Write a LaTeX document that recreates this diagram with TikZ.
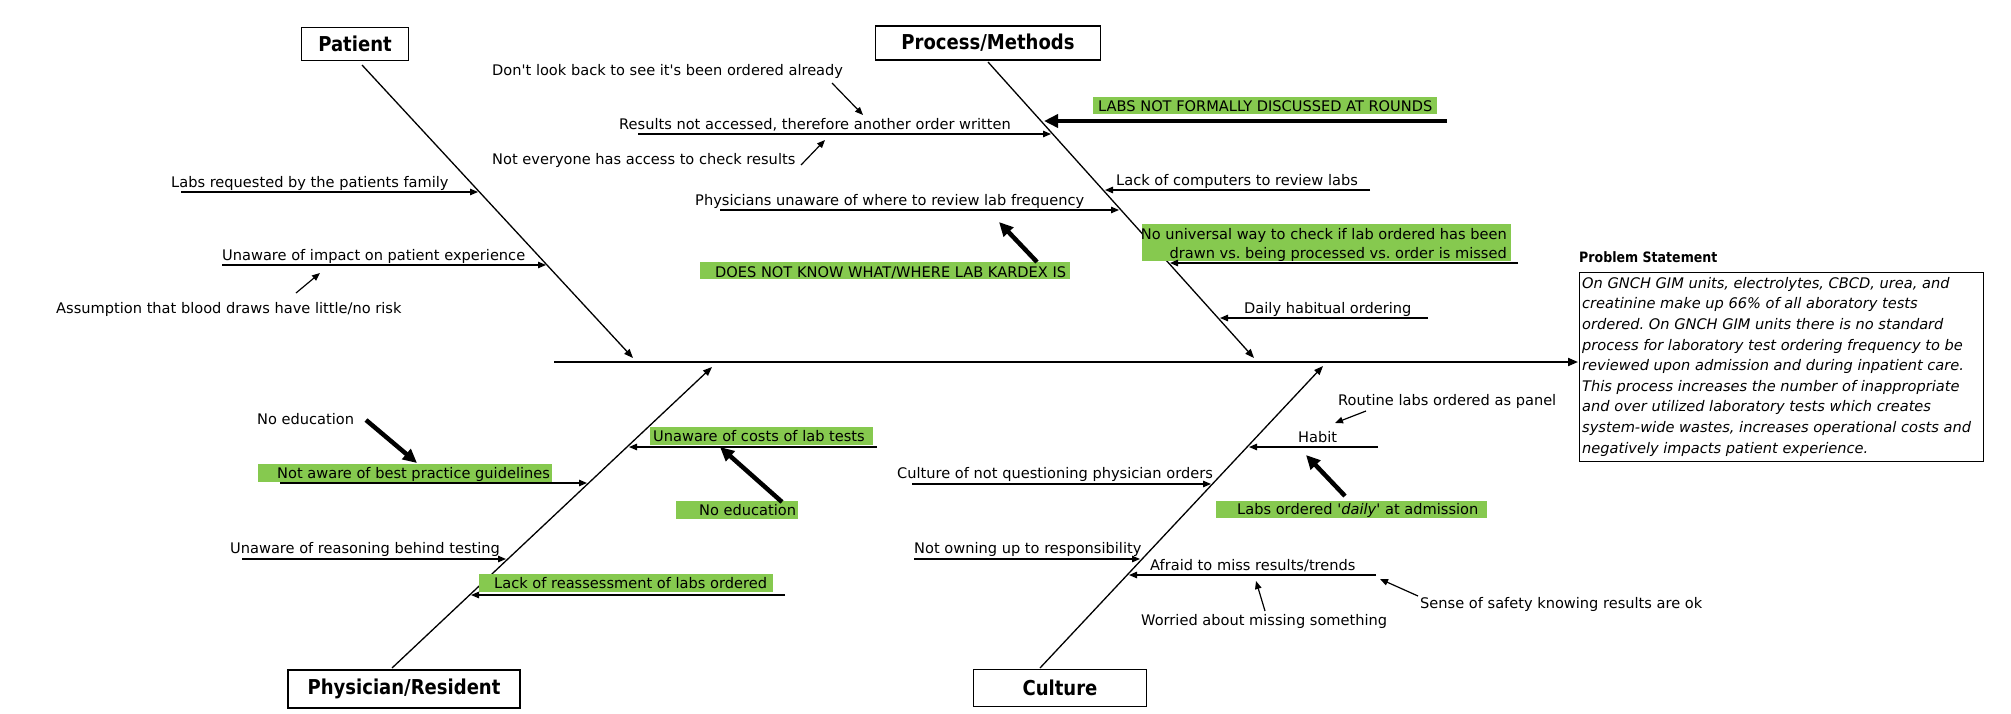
\documentclass[tikz,border=0pt]{standalone}
\usepackage{fontspec}
\setmainfont{DejaVu Sans}[Ligatures=TeXOff]
\newfontfamily\ttlfont{DejaVu Sans}[FakeStretch=0.88, Ligatures=TeXOff]
\usetikzlibrary{arrows.meta}
\definecolor{hl}{RGB}{134,201,79}
\tikzset{
  lbl/.style={anchor=base west, inner sep=0pt, font=\fontsize{14.6}{17}\selectfont},
  lble/.style={anchor=base east, inner sep=0pt, font=\fontsize{14.6}{17}\selectfont},
  ttl/.style={draw, line width=1.6pt, inner sep=0pt, font=\ttlfont\bfseries\fontsize{20.5}{24}\selectfont},
  hlbox/.style={fill=hl, draw=none, inner sep=0pt, anchor=north west},
  rib/.style={line width=1.2pt, -{Triangle[length=8pt,width=6.5pt]}},
  bone/.style={line width=1.3pt, -{Triangle[length=9pt,width=7pt]}},
  spine/.style={line width=2pt, -{Triangle[length=10pt,width=8pt]}},
  bigarrow/.style={line width=4.5pt, -{Triangle[length=14pt,width=13pt]}},
}
\begin{document}
\frenchspacing
\begin{tikzpicture}[x=1pt,y=-1pt]
\fill[white] (0,0) rectangle (2011,713);
\useasboundingbox (0,0) rectangle (2011,713);

% category boxes
\node[ttl, minimum width=107, minimum height=33] (patient) at (355,44) {Patient};
\node[ttl, minimum width=225, minimum height=34] (process) at (988,43) {Process/Methods};
\node[ttl, minimum width=232, minimum height=38] (physician) at (404,689) {Physician/Resident};
\node[ttl, minimum width=173, minimum height=37] (culture) at (1060,688) {Culture};

% spine and problem statement
\node[draw, line width=1.3pt, minimum width=404, minimum height=189, anchor=north west, inner sep=0pt] (psbox) at (1579,272) {};
\node[anchor=base west, inner sep=0pt, font=\ttlfont\bfseries\fontsize{14.3}{17}\selectfont] (pstitle) at (1579,262) {Problem Statement};
\node[anchor=north west, inner sep=0pt, align=left, font=\fontsize{14.6}{20.6}\selectfont\itshape] (pstext) at (1582,277) {On GNCH GIM units, electrolytes, CBCD, urea, and\\creatinine make up 66\% of all aboratory tests\\ordered. On GNCH GIM units there is no standard\\process for laboratory test ordering frequency to be\\reviewed upon admission and during inpatient care.\\This process increases the number of inappropriate\\and over utilized laboratory tests which creates\\system-wide wastes, increases operational costs and\\negatively impacts patient experience.};
\coordinate (spL) at (554,362);
\coordinate (spR) at (1578,362);
\draw[spine] (spL) -- (spR);

% bones
\coordinate (pb0) at (362,65);   \coordinate (pb1) at (633,358);
\coordinate (mb0) at (988,62);   \coordinate (mb1) at (1254,358);
\coordinate (hb0) at (392,668);  \coordinate (hb1) at (712,367);
\coordinate (cb0) at (1040,668); \coordinate (cb1) at (1323,366);
\draw[bone] (pb0) -- (pb1);
\draw[bone] (mb0) -- (mb1);
\draw[bone] (hb0) -- (hb1);
\draw[bone] (cb0) -- (cb1);

% ---------- Patient ----------
\node[lbl] (p1) at (171,187) {Labs requested by the patients family};
\coordinate (p1s) at (181,192); \coordinate (p1e) at (478,192);
\draw[rib] (p1s) -- (p1e);
\node[lbl] (p2) at (222,260) {Unaware of impact on patient experience};
\coordinate (p2s) at (222,265); \coordinate (p2e) at (546,265);
\draw[rib] (p2s) -- (p2e);
\node[lbl] (p3) at (56,313) {Assumption that blood draws have little/no risk};
\coordinate (a1s) at (296,293); \coordinate (a1e) at (320,273);
\draw[rib] (a1s) -- (a1e);

% ---------- Process/Methods ----------
\node[lbl] (m1) at (492,75) {Don't look back to see it's been ordered already};
\coordinate (a2s) at (832,83); \coordinate (a2e) at (863,115);
\draw[rib] (a2s) -- (a2e);
\node[lbl] (m2) at (619,129) {Results not accessed, therefore another order written};
\coordinate (m2s) at (638,134); \coordinate (m2e) at (1051,134);
\draw[rib] (m2s) -- (m2e);
\node[lbl] (m3) at (492,164) {Not everyone has access to check results};
\coordinate (a3s) at (801,165); \coordinate (a3e) at (825,140);
\draw[rib] (a3s) -- (a3e);
\node[hlbox, minimum width=344, minimum height=17] (g1) at (1093,97) {};
\node[lbl] (m4) at (1098,111.5) {LABS NOT FORMALLY DISCUSSED AT ROUNDS};
\coordinate (b1s) at (1447,121); \coordinate (b1e) at (1044,121);
\draw[bigarrow] (b1s) -- (b1e);
\node[lbl] (m5) at (1116,185) {Lack of computers to review labs};
\coordinate (m5s) at (1370,190); \coordinate (m5e) at (1105,190);
\draw[rib] (m5s) -- (m5e);
\node[lbl] (m6) at (695,205) {Physicians unaware of where to review lab frequency};
\coordinate (m6s) at (720,210); \coordinate (m6e) at (1119,210);
\draw[rib] (m6s) -- (m6e);
\node[hlbox, minimum width=370, minimum height=17] (g2) at (700,262) {};
\node[lbl] (m7) at (715,277) {DOES NOT KNOW WHAT/WHERE LAB KARDEX IS};
\coordinate (b2s) at (1037,262); \coordinate (b2e) at (999,222);
\draw[bigarrow] (b2s) -- (b2e);
\node[hlbox, minimum width=369, minimum height=37] (g3) at (1142,224) {};
\node[lble] (m8a) at (1507,239) {No universal way to check if lab ordered has been};
\node[lble] (m8b) at (1507,258) {drawn vs. being processed vs. order is missed};
\coordinate (m8s) at (1518,263); \coordinate (m8e) at (1170,263);
\draw[rib] (m8s) -- (m8e);
\node[lbl] (m9) at (1244,313) {Daily habitual ordering};
\coordinate (m9s) at (1428,318); \coordinate (m9e) at (1220,318);
\draw[rib] (m9s) -- (m9e);

% ---------- Physician/Resident ----------
\node[lbl] (h1) at (257,424) {No education};
\coordinate (b3s) at (366,420); \coordinate (b3e) at (417,463);
\draw[bigarrow] (b3s) -- (b3e);
\node[hlbox, minimum width=294, minimum height=18] (g4) at (258,464) {};
\node[lbl] (h2) at (277,478.5) {Not aware of best practice guidelines};
\coordinate (h2s) at (280,483); \coordinate (h2e) at (587,483);
\draw[rib] (h2s) -- (h2e);
\node[hlbox, minimum width=223, minimum height=18] (g5) at (650,427) {};
\node[lbl] (h3) at (653,441.5) {Unaware of costs of lab tests};
\coordinate (h3s) at (877,447); \coordinate (h3e) at (629,447);
\draw[rib] (h3s) -- (h3e);
\node[hlbox, minimum width=122, minimum height=18] (g6) at (676,501) {};
\node[lbl] (h4) at (699,515.5) {No education};
\coordinate (b4s) at (782,502); \coordinate (b4e) at (720,447);
\draw[bigarrow] (b4s) -- (b4e);
\node[lbl] (h5) at (230,553) {Unaware of reasoning behind testing};
\coordinate (h5s) at (242,559); \coordinate (h5e) at (506,559);
\draw[rib] (h5s) -- (h5e);
\node[hlbox, minimum width=294, minimum height=18] (g7) at (479,574) {};
\node[lbl] (h6) at (494,588.5) {Lack of reassessment of labs ordered};
\coordinate (h6s) at (785,595); \coordinate (h6e) at (471,595);
\draw[rib] (h6s) -- (h6e);

% ---------- Culture ----------
\node[lbl] (c1) at (1338,405) {Routine labs ordered as panel};
\coordinate (a4s) at (1366,411); \coordinate (a4e) at (1335,423);
\draw[rib] (a4s) -- (a4e);
\node[lbl] (c2) at (1298,442) {Habit};
\coordinate (c2s) at (1378,447); \coordinate (c2e) at (1249,447);
\draw[rib] (c2s) -- (c2e);
\coordinate (b5s) at (1345,496); \coordinate (b5e) at (1306,455);
\draw[bigarrow] (b5s) -- (b5e);
\node[hlbox, minimum width=271, minimum height=17] (g8) at (1216,501) {};
\node[lbl] (c3) at (1237,514.5) {Labs ordered '\textit{daily}' at admission};
\node[lbl] (c4) at (897,478) {Culture of not questioning physician orders};
\coordinate (c4s) at (912,484); \coordinate (c4e) at (1211,484);
\draw[rib] (c4s) -- (c4e);
\node[lbl] (c5) at (914,553) {Not owning up to responsibility};
\coordinate (c5s) at (914,559); \coordinate (c5e) at (1140,559);
\draw[rib] (c5s) -- (c5e);
\node[lbl] (c6) at (1150,570) {Afraid to miss results/trends};
\coordinate (c6s) at (1376,575); \coordinate (c6e) at (1129,575);
\draw[rib] (c6s) -- (c6e);
\node[lbl] (c7) at (1141,625) {Worried about missing something};
\coordinate (a5s) at (1265,611); \coordinate (a5e) at (1256,581);
\draw[rib] (a5s) -- (a5e);
\node[lbl] (c8) at (1420,608) {Sense of safety knowing results are ok};
\coordinate (a6s) at (1418,596); \coordinate (a6e) at (1380,579);
\draw[rib] (a6s) -- (a6e);
\end{tikzpicture}
\end{document}
